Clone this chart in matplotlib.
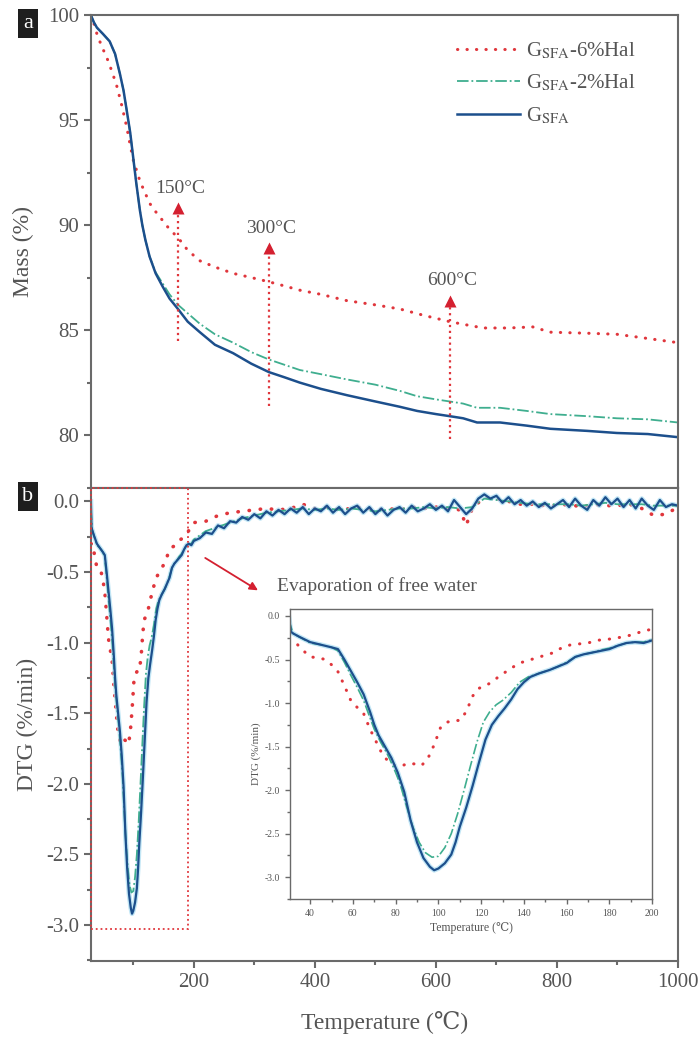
import numpy as np
import matplotlib.pyplot as plt
from matplotlib.patches import Rectangle
from matplotlib.ticker import MultipleLocator

plt.rcParams['font.family'] = ['Liberation Serif', 'DejaVu Serif']
plt.rcParams['mathtext.fontset'] = 'stix'

# -------------------------
# TGA data (mass %)
# -------------------------
t_mass_g = [30, 35, 40, 50, 61, 70, 78, 84, 89, 95, 100, 105, 111, 115, 120, 127, 137, 149,
            160, 174, 190, 210, 235, 265, 295, 324, 350, 375, 410, 453, 500, 540, 569, 600,
            623, 645, 668, 706, 750, 789, 850, 899, 950, 1000]
mass_g = [100, 99.65, 99.4, 99.1, 98.75, 98.15, 97.2, 96.4, 95.5, 94.4, 93.2, 92.0, 90.7,
          90.0, 89.3, 88.5, 87.7, 87.05, 86.5, 86.0, 85.4, 84.9, 84.3, 83.9, 83.4, 83.0,
          82.75, 82.5, 82.2, 81.9, 81.6, 81.35, 81.15, 81.0, 80.9, 80.8, 80.6, 80.6, 80.45,
          80.3, 80.2, 80.1, 80.05, 79.9]

t_mass_2 = [30, 35, 40, 50, 61, 70, 78, 84, 89, 95, 100, 105, 111, 115, 120, 127, 137, 149,
            160, 174, 190, 210, 235, 265, 295, 324, 375, 410, 453, 500, 541, 569, 600, 623,
            645, 668, 706, 750, 789, 850, 899, 950, 1000]
mass_2 = [100, 99.65, 99.4, 99.1, 98.75, 98.15, 97.2, 96.4, 95.5, 94.4, 93.2, 92.0, 90.7,
          90.0, 89.3, 88.5, 87.75, 87.2, 86.7, 86.2, 85.8, 85.3, 84.8, 84.4, 83.95, 83.6,
          83.1, 82.9, 82.65, 82.4, 82.1, 81.85, 81.7, 81.6, 81.5, 81.3, 81.3, 81.15, 81.0,
          80.9, 80.8, 80.75, 80.6]

t_mass_6 = [30, 35, 40, 48, 56, 65, 73, 81, 89, 95, 100, 111, 120, 128, 138, 149, 160, 174,
            190, 210, 235, 265, 295, 324, 350, 375, 410, 453, 500, 541, 580, 623, 650, 678,
            720, 760, 789, 850, 899, 950, 1000]
mass_6 = [100, 99.6, 99.1, 98.5, 98.0, 97.3, 96.6, 95.7, 94.7, 93.8, 93.1, 92.1, 91.5, 91.0,
          90.6, 90.2, 89.8, 89.4, 88.8, 88.3, 88.0, 87.7, 87.5, 87.3, 87.1, 86.9, 86.7, 86.4,
          86.2, 86.0, 85.7, 85.4, 85.25, 85.1, 85.1, 85.15, 84.9, 84.85, 84.8, 84.6, 84.4]

# -------------------------
# DTG data (%/min)
# -------------------------
t_dtg_g = [30, 31, 32, 35, 40, 45, 50, 53, 56, 59, 62, 65, 68, 70, 72, 75, 78, 81, 84, 87, 90,
           93, 96, 98, 100, 103, 106, 108, 110, 113, 116, 119, 122, 125, 128, 131, 134, 137,
           140, 143, 147, 152, 156, 160, 164, 168, 172, 176, 180, 184, 188, 192, 196, 200,
           210, 220, 230, 240, 250, 260, 270, 280, 290, 300, 310, 320, 330, 340, 350, 360,
           370, 380, 390, 400, 410, 420, 430, 440, 450, 460, 470, 480, 490, 500, 510, 520,
           530, 540, 550, 560, 570, 580, 590, 600, 610, 620, 630, 640, 650, 660, 670, 680,
           690, 700, 710, 720, 730, 740, 750, 760, 770, 780, 790, 800, 810, 820, 830, 840,
           850, 860, 870, 880, 890, 900, 910, 920, 930, 940, 950, 960, 970, 980, 990, 1000]
dtg_g = [0.0, -0.18, -0.2, -0.24, -0.3, -0.33, -0.36, -0.38, -0.5, -0.63, -0.76, -0.9, -1.1,
         -1.25, -1.37, -1.5, -1.63, -1.8, -2.02, -2.35, -2.6, -2.78, -2.88, -2.92, -2.9, -2.84,
         -2.74, -2.6, -2.42, -2.2, -1.95, -1.68, -1.42, -1.25, -1.15, -1.06, -0.96, -0.84,
         -0.76, -0.7, -0.66, -0.62, -0.58, -0.54, -0.47, -0.44, -0.42, -0.4, -0.38, -0.34,
         -0.31, -0.3, -0.31, -0.28,
         -0.26, -0.22, -0.23, -0.17, -0.19, -0.14, -0.15, -0.11, -0.13, -0.09, -0.12, -0.07,
         -0.1, -0.06, -0.09, -0.05, -0.08, -0.04, -0.09, -0.05, -0.07, -0.03, -0.08, -0.04,
         -0.09, -0.05, -0.03, -0.08, -0.04, -0.09, -0.05, -0.1, -0.06, -0.04, -0.08, -0.03,
         -0.07, -0.05, -0.02, -0.06, -0.03, -0.07, 0.01, -0.04, -0.09, -0.05, 0.02, 0.05,
         0.02, 0.04, -0.01, 0.03, -0.02, 0.01, -0.03, 0.0, -0.04, -0.01, -0.05, -0.02, 0.01,
         -0.04, 0.02, -0.03, -0.06, 0.01, -0.03, 0.03, -0.02, 0.02, -0.04, 0.01, -0.05, 0.02,
         -0.03, -0.06, 0.01, -0.04, -0.02, -0.03]

t_dtg_2 = [30, 32, 40, 45, 50, 53, 56, 59, 62, 65, 68, 70, 73, 76, 79, 82, 85, 88, 91, 94, 97,
           100, 103, 106, 109, 112, 115, 118, 121, 124, 127, 130, 134, 138, 142, 147, 152, 156,
           160, 164, 168, 172, 176, 180, 184, 188, 192, 196, 200, 220, 240, 260, 280, 300,
           320, 340, 360, 380, 400, 420, 440, 460, 480, 500, 520, 540, 560, 580, 600, 620,
           640, 660, 680, 700, 720, 740, 760, 780, 800, 820, 840, 860, 880, 900, 920, 940,
           960, 980, 1000]
dtg_2 = [-0.05, -0.2, -0.31, -0.33, -0.36, -0.4, -0.53, -0.68, -0.82, -0.97, -1.17, -1.3,
         -1.45, -1.58, -1.74, -1.92, -2.18, -2.42, -2.6, -2.72, -2.77, -2.76, -2.66, -2.5,
         -2.27, -2.0, -1.72, -1.45, -1.22, -1.1, -1.02, -0.97, -0.88, -0.76, -0.7, -0.66,
         -0.62, -0.58, -0.53, -0.47, -0.44, -0.42, -0.39, -0.37, -0.34, -0.31, -0.3, -0.3,
         -0.27, -0.21, -0.18, -0.15, -0.12, -0.1, -0.08, -0.07, -0.06, -0.05, -0.06, -0.05,
         -0.06, -0.05, -0.06, -0.07, -0.06, -0.05, -0.05, -0.04, -0.05, -0.04, -0.05, -0.04,
         0.02, 0.01, 0.0, -0.01, -0.02, -0.02, -0.02, -0.02, -0.03, -0.02, -0.01, -0.02,
         -0.02, -0.02, -0.03, -0.03, -0.03]

t_dtg_6 = [30, 33, 36, 40, 44, 47, 50, 53, 56, 59, 62, 65, 68, 71, 74, 77, 80, 83, 86, 89, 92,
           95, 98, 101, 104, 107, 110, 113, 116, 119, 122, 125, 128, 131, 134, 138, 142, 146,
           150, 154, 158, 162, 166, 170, 174, 178, 182, 186, 190, 195, 200, 220, 240, 260,
           280, 300, 320, 340, 360, 380, 400, 420, 440, 460, 480, 500, 520, 540, 560, 580,
           600, 620, 640, 650, 660, 680, 700, 720, 740, 760, 780, 800, 820, 840, 860, 880,
           900, 920, 940, 960, 980, 1000]
dtg_6 = [-0.3, -0.3, -0.38, -0.47, -0.48, -0.5, -0.56, -0.64, -0.8, -0.97, -1.05, -1.12,
         -1.3, -1.45, -1.6, -1.68, -1.72, -1.72, -1.69, -1.7, -1.72, -1.64, -1.48, -1.28,
         -1.22, -1.2, -1.2, -1.1, -0.92, -0.83, -0.8, -0.76, -0.7, -0.65, -0.6, -0.54, -0.51,
         -0.48, -0.45, -0.42, -0.36, -0.33, -0.32, -0.31, -0.28, -0.27, -0.26, -0.24, -0.22,
         -0.18, -0.15, -0.14, -0.1, -0.08, -0.07, -0.06, -0.05, -0.06, -0.05, -0.02, -0.05,
         -0.04, -0.06, -0.05, -0.04, -0.06, -0.05, -0.06, -0.04, -0.05, -0.04, -0.05, -0.06,
         -0.17, -0.05, 0.03, 0.02, 0.0, -0.02, -0.02, -0.03, -0.03, -0.02, -0.04, -0.02,
         -0.03, -0.03, -0.02, -0.05, -0.1, -0.09, -0.04]

# temperature markers in panel a
marker_x = [174, 324, 623]
marker_y0 = [84.5, 81.4, 79.8]
marker_y1 = [90.8, 88.9, 86.4]
marker_lbl = ['150°C', '300°C', '600°C']

labels = [r'G$_{\mathrm{SFA}}$-6%Hal', r'G$_{\mathrm{SFA}}$-2%Hal', r'G$_{\mathrm{SFA}}$']

RED = '#e0363c'
GREEN = '#3fae8f'
BLUE = '#1c4f8c'
HALO = '#a8dcf2'
GRAY = '#555555'
SPINE = '#6a6a6a'
DOTS = (0, (0.1, 3.0))

fig = plt.figure(figsize=(6.99, 10.37), dpi=100)
ax_a = fig.add_axes([0.130, 0.5294, 0.840, 0.4561])
ax_b = fig.add_axes([0.130, 0.0733, 0.840, 0.4561])


def style(ax, size, lw=1.5):
    for s in ax.spines.values():
        s.set_color(SPINE)
        s.set_linewidth(lw)
    ax.tick_params(which='both', direction='out', colors=SPINE, labelcolor=GRAY,
                   labelsize=size, width=lw)
    ax.tick_params(which='major', length=5)
    ax.tick_params(which='minor', length=3)


# -------------------------
# a: mass
# -------------------------
ax_a.plot(t_mass_6, mass_6, color=RED, linestyle=DOTS, lw=2.2,
          dash_capstyle='round', label=labels[0])
ax_a.plot(t_mass_2, mass_2, color=GREEN, linestyle='-.', lw=1.3, label=labels[1])
ax_a.plot(t_mass_g, mass_g, color=BLUE, lw=1.8, label=labels[2])

for x, y0, y1, lbl in zip(marker_x, marker_y0, marker_y1, marker_lbl):
    ax_a.plot([x, x], [y0, y1 - 0.3], color=RED, linestyle=':', lw=1.6)
    ax_a.plot(x, y1, marker='^', color='#d42030', ms=8, mec='none')
    ax_a.text(x + 3, y1 + 0.55, lbl, ha='center', va='bottom', fontsize=14, color=GRAY)

ax_a.set_xlim(30, 1000)
ax_a.set_ylim(77.48, 100)
ax_a.yaxis.set_major_locator(MultipleLocator(5))
ax_a.yaxis.set_minor_locator(MultipleLocator(2.5))
ax_a.set_xticks([])
ax_a.set_ylabel('Mass (%)', fontsize=17, color=GRAY, labelpad=10)
style(ax_a, 15)
ax_a.legend(loc='upper right', bbox_to_anchor=(0.96, 0.985), frameon=False, fontsize=15,
            handlelength=3.0, labelspacing=0.55, handletextpad=0.3, labelcolor=GRAY)

# -------------------------
# b: DTG
# -------------------------
ax_b.plot(t_dtg_6, dtg_6, color=RED, linestyle=DOTS, lw=2.6, dash_capstyle='round')
ax_b.plot(t_dtg_g, dtg_g, color=HALO, lw=3.5, alpha=0.7)
ax_b.plot(t_dtg_2, dtg_2, color=GREEN, linestyle='-.', lw=1.3)
ax_b.plot(t_dtg_g, dtg_g, color=BLUE, lw=1.6)

ax_b.add_patch(Rectangle((30, -3.03), 160, 3.125, fill=False, edgecolor=RED,
                         linestyle=':', lw=1.3, clip_on=False, zorder=5))
ax_b.annotate('', xy=(310, -0.64), xytext=(215, -0.39),
              arrowprops=dict(arrowstyle='-|>', color='#d42030', lw=1.3, mutation_scale=12))
ax_b.text(337, -0.60, 'Evaporation of free water', fontsize=14, color=GRAY, va='center')

ax_b.set_xlim(30, 1000)
ax_b.set_ylim(-3.255, 0.095)
ax_b.xaxis.set_minor_locator(MultipleLocator(100))
ax_b.set_xticks([200, 400, 600, 800, 1000])
ax_b.set_yticks(np.arange(-3.0, 0.01, 0.5))
ax_b.set_yticklabels(['-3.0', '-2.5', '-2.0', '-1.5', '-1.0', '-0.5', '0.0'])
ax_b.yaxis.set_minor_locator(MultipleLocator(0.25))
ax_b.set_ylabel('DTG (%/min)', fontsize=17, color=GRAY, labelpad=6)
ax_b.set_xlabel('Temperature (℃)', fontsize=17, color=GRAY, labelpad=14)
style(ax_b, 15)

# inset
ax_i = fig.add_axes([0.415, 0.1331, 0.518, 0.2796])
ax_i.plot(t_dtg_6, dtg_6, color=RED, linestyle=(0, (0.1, 3.2)), lw=2.2, dash_capstyle='round')
ax_i.plot(t_dtg_g, dtg_g, color=HALO, lw=3.5, alpha=0.7)
ax_i.plot(t_dtg_2, dtg_2, color=GREEN, linestyle='-.', lw=1.2)
ax_i.plot(t_dtg_g, dtg_g, color=BLUE, lw=1.6)
ax_i.set_xlim(30.6, 200)
ax_i.set_ylim(-3.25, 0.08)
ax_i.xaxis.set_minor_locator(MultipleLocator(10))
ax_i.set_xticks(range(40, 201, 20))
ax_i.set_yticks(np.arange(-3.0, 0.01, 0.5))
ax_i.set_yticklabels(['-3.0', '-2.5', '-2.0', '-1.5', '-1.0', '-0.5', '0.0'])
ax_i.yaxis.set_minor_locator(MultipleLocator(0.25))
ax_i.set_ylabel('DTG (%/min)', fontsize=8, color=GRAY, labelpad=3)
ax_i.set_xlabel('Temperature (℃)', fontsize=8.5, color=GRAY, labelpad=3)
style(ax_i, 7, lw=1.0)
ax_i.tick_params(which='major', length=3.5)
ax_i.tick_params(which='minor', length=2)

# panel letters
for y, letter in [(0.977, 'a'), (0.521, 'b')]:
    fig.text(0.040, y, letter, fontsize=16, color='white', ha='center', va='center',
             bbox=dict(boxstyle='square,pad=0.22', facecolor='#1e1e1e', edgecolor='none'))

plt.savefig('out.png', dpi=100)
